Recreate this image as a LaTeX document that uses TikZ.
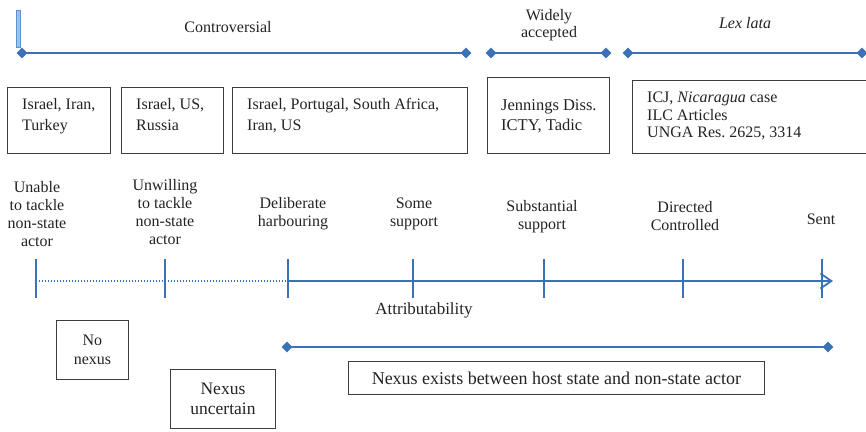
\documentclass[tikz,border=0pt]{standalone}
\usepackage{fontspec}
\setmainfont{Liberation Serif}
\usetikzlibrary{shapes.geometric,arrows.meta,calc}
\definecolor{lblue}{RGB}{58,114,181}
\definecolor{barlight}{RGB}{160,193,230}
\definecolor{barmid}{RGB}{95,145,205}
\definecolor{textc}{RGB}{35,35,35}
\definecolor{boxc}{RGB}{60,60,60}
\begin{document}
\begin{tikzpicture}[x=1pt,y=-1pt,
  every node/.style={text=textc, font=\fontsize{16}{18}\selectfont},
  bline/.style={draw=lblue, line width=2pt},
  dia/.style={diamond, fill=lblue, draw=none, inner sep=0pt, minimum size=11pt},
  box/.style={draw=boxc, line width=0.9pt, rectangle, inner sep=0pt},
  lbl/.style={align=center},
  tickmark/.style={draw=lblue, line width=1.6pt},
  dotline/.style={draw=lblue, line width=1.3pt, dash pattern=on 1.3pt off 1.7pt},
]
\useasboundingbox (0,0) rectangle (866,431);
\clip (0,0) rectangle (866,431);

% top bar
\filldraw[fill=barlight, draw=barmid, line width=0.6pt] (16,10) rectangle (20,47);

% top ranges
\node[dia] (a1) at (22,53) {};
\node[dia] (a2) at (466,53) {};
\node[dia] (b1) at (491,53) {};
\node[dia] (b2) at (606,53) {};
\node[dia] (c1) at (628,53) {};
\node[dia] (c2) at (862,53) {};
\draw[bline] (a1.center) -- (a2.center);
\draw[bline] (b1.center) -- (b2.center);
\draw[bline] (c1.center) -- (c2.center);

\node (controv) at (228,27) {Controversial};
\node[lbl, font=\fontsize{16}{16.5}\selectfont] (wide) at (549,25) {Widely\\accepted};
\node (lex) at (745,23) {\itshape Lex lata};

% source boxes
\node[box, minimum width=103pt, minimum height=66pt, anchor=north west] (p1) at (7,87) {};
\node[anchor=north west, align=left, inner sep=0pt, font=\fontsize{16}{21}\selectfont] (p1t) at ([xshift=15pt,yshift=-11pt]p1.north west) {Israel, Iran,\\Turkey};
\node[box, minimum width=102pt, minimum height=66pt, anchor=north west] (p2) at (121,87) {};
\node[anchor=north west, align=left, inner sep=0pt, font=\fontsize{16}{21}\selectfont] (p2t) at ([xshift=15pt,yshift=-11pt]p2.north west) {Israel, US,\\Russia};
\node[box, minimum width=235pt, minimum height=66pt, anchor=north west] (p3) at (232,87) {};
\node[anchor=north west, align=left, inner sep=0pt, font=\fontsize{16}{21}\selectfont] (p3t) at ([xshift=15pt,yshift=-11pt]p3.north west) {Israel, Portugal, South Africa,\\Iran, US};

\node[box, minimum width=122pt, minimum height=76pt, anchor=north west] (p4) at (487,77) {};
\node[anchor=west, align=left, inner sep=0pt, font=\fontsize{16.5}{20}\selectfont] (p4t) at ([xshift=14pt,yshift=-1pt]p4.west) {Jennings Diss.\\ICTY, Tadic};
\node[box, minimum width=250pt, minimum height=73pt, anchor=north west] (p5) at (632,80) {};
\node[anchor=west, align=left, inner sep=0pt, font=\fontsize{16}{17.5}\selectfont] (p5t) at ([xshift=15pt,yshift=1pt]p5.west) {ICJ, \textit{Nicaragua} case\\ILC Articles\\UNGA Res.\ 2625, 3314};

% axis labels
\node[lbl] (l1) at (37,214) {Unable\\to tackle\\non-state\\actor};
\node[lbl] (l2) at (165,212) {Unwilling\\to tackle\\non-state\\actor};
\node[lbl] (l3) at (293,214) {Deliberate\\harbouring};
\node[lbl] (l4) at (414,214) {Some\\support};
\node[lbl] (l5) at (542,217) {Substantial\\support};
\node[lbl] (l6) at (685,216.5) {Directed\\Controlled};
\node (l7) at (821,219) {Sent};

% axis
\coordinate (t1) at (36,281);
\coordinate (t2) at (165,281);
\coordinate (t3) at (288,281);
\coordinate (t4) at (413,281);
\coordinate (t5) at (544,281);
\coordinate (t6) at (683,281);
\coordinate (t7) at (822,281);
\coordinate (tip) at (833,281);
\draw[dotline] (t1) -- (t3);
\draw[bline, -{Straight Barb[length=11pt,width=15pt,line width=1.8pt]}] (t3) -- (tip);
\foreach \t in {t1,t2,t3,t4,t5,t6,t7}{
  \draw[tickmark] ([yshift=22pt]\t) -- ([yshift=-17pt]\t);
}
\node[font=\fontsize{17}{19}\selectfont] (attr) at (424,310) {Attributability};

% bottom
\node[box, minimum width=72pt, minimum height=59pt, anchor=north west, align=center, font=\fontsize{16}{19}\selectfont] (nn) at (56,320) {No\\nexus};
\node[box, minimum width=105pt, minimum height=59pt, anchor=north west, align=center, font=\fontsize{17.5}{20}\selectfont] (nu) at (170,369) {Nexus\\uncertain};
\node[dia] (d1) at (287,347) {};
\node[dia] (d2) at (828,347) {};
\draw[bline] (d1.center) -- (d2.center);
\node[box, minimum width=416pt, minimum height=33pt, anchor=north west, font=\fontsize{18}{20}\selectfont] (ne) at (348,361) {Nexus exists between host state and non-state actor};
\end{tikzpicture}
\end{document}
